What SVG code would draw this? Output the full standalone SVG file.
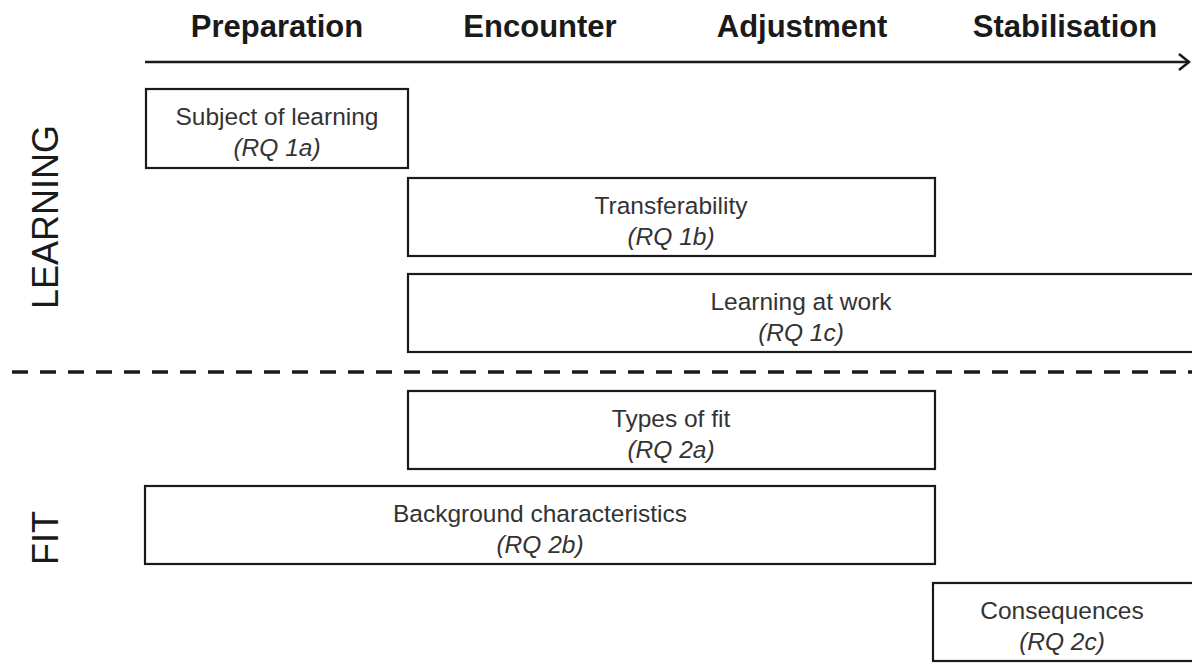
<svg xmlns="http://www.w3.org/2000/svg" width="1192" height="664" viewBox="0 0 1192 664">
<defs>
<style>
.hd{font-family:"Liberation Sans",Arial,sans-serif;font-weight:bold;font-size:31px;fill:#1a1a1a;text-anchor:middle}
.side{font-family:"Liberation Sans",Arial,sans-serif;font-size:36px;fill:#1a1a1a;text-anchor:middle}
.box{fill:#fff;stroke:#1a1a1a;stroke-width:2.2}
.t{font-family:"Liberation Sans",Arial,sans-serif;font-size:24.5px;fill:#333;text-anchor:middle}
.i{font-style:italic}
</style>
<marker id="arr" markerWidth="14" markerHeight="20" refX="12" refY="10" orient="auto" markerUnits="userSpaceOnUse">
<path d="M2,2 L12,10 L2,18" fill="none" stroke="#1a1a1a" stroke-width="2.6"/>
</marker>
</defs>
<rect width="1192" height="664" fill="#fff"/>
<g id="headers">
<text class="hd" x="277" y="37">Preparation</text>
<text class="hd" x="540" y="37">Encounter</text>
<text class="hd" x="802" y="37">Adjustment</text>
<text class="hd" x="1065" y="37">Stabilisation</text>
</g>
<g id="side-labels">
<text class="side" transform="translate(58,217) rotate(-90)">LEARNING</text>
<text class="side" transform="translate(58,538) rotate(-90)">FIT</text>
</g>
<g id="connectors">
<line x1="145" y1="62" x2="1189" y2="62" stroke="#1a1a1a" stroke-width="2.6" marker-end="url(#arr)"/>
<line x1="12" y1="372" x2="1192" y2="372" stroke="#1a1a1a" stroke-width="3.5" stroke-dasharray="16,12"/>
</g>
<g id="subject">
<rect class="box" x="146" y="89" width="262" height="79"/>
<text class="t" x="277" y="125">Subject of learning</text>
<text class="t i" x="277" y="156">(RQ 1a)</text>
</g>
<g id="transferability">
<rect class="box" x="408" y="178" width="527" height="78"/>
<text class="t" x="671" y="214">Transferability</text>
<text class="t i" x="671" y="245">(RQ 1b)</text>
</g>
<g id="learning-at-work">
<rect class="box" x="408" y="274" width="800" height="78"/>
<text class="t" x="801" y="310">Learning at work</text>
<text class="t i" x="801" y="341">(RQ 1c)</text>
</g>
<g id="types-of-fit">
<rect class="box" x="408" y="391" width="527" height="78"/>
<text class="t" x="671" y="427">Types of fit</text>
<text class="t i" x="671" y="458">(RQ 2a)</text>
</g>
<g id="background">
<rect class="box" x="145" y="486" width="790" height="78"/>
<text class="t" x="540" y="522">Background characteristics</text>
<text class="t i" x="540" y="553">(RQ 2b)</text>
</g>
<g id="consequences">
<rect class="box" x="933" y="583" width="280" height="78"/>
<text class="t" x="1062" y="619">Consequences</text>
<text class="t i" x="1062" y="650">(RQ 2c)</text>
</g>
</svg>
